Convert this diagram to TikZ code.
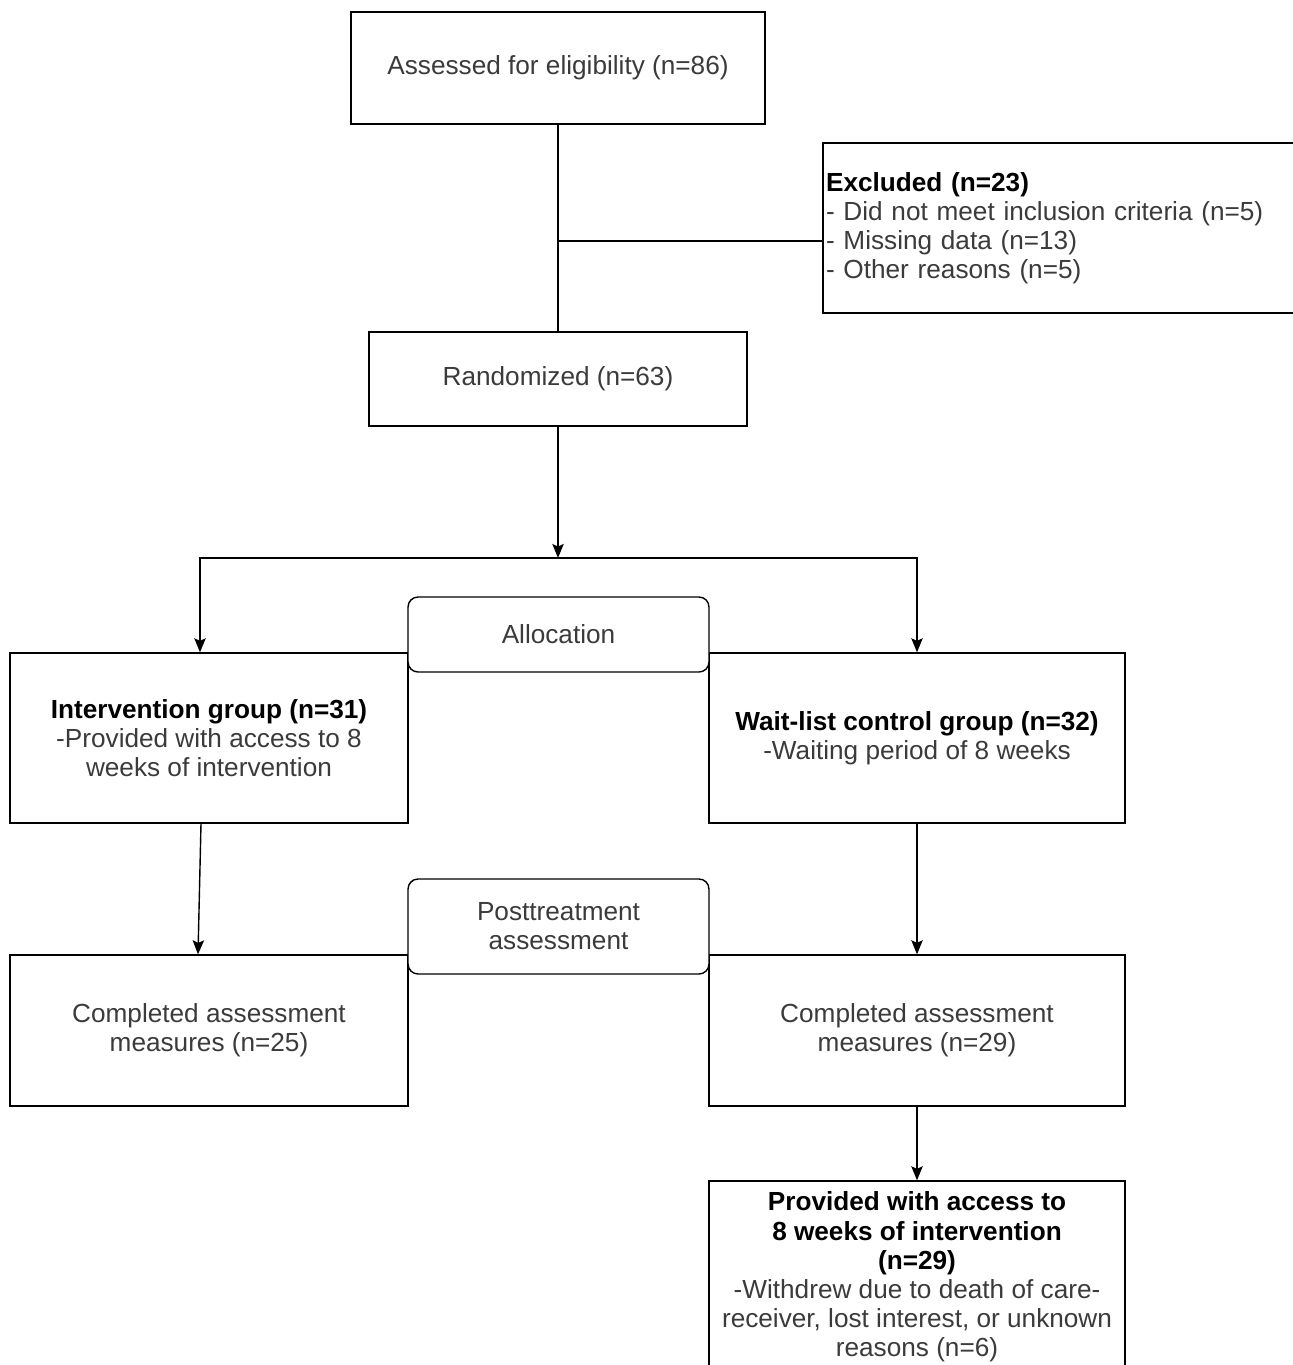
\documentclass[tikz,border=0pt]{standalone}
\usepackage{fontspec}
\setmainfont{Liberation Sans}
\usetikzlibrary{shapes, arrows, arrows.meta}
\definecolor{txtgray}{HTML}{3B3B3B}
\newcommand{\hdr}[1]{\textcolor{black}{\textbf{#1}}}

\begin{document}
\begin{tikzpicture}[x=0.02cm, y=-0.02cm, font=\fontsize{14.9}{16.6}\selectfont]
        \tikzstyle{box} = [rectangle, draw=black, line width=0.8pt, fill=white, text=txtgray, align=center, inner sep=1.7pt]
        \tikzstyle{roundbox} = [box, rounded corners=0.2cm]
        \tikzstyle{plainline} = [line width=0.8pt]
        \tikzstyle{singlearrow} = [line width=0.8pt, ->, >={Stealth[length=8pt, width=6.5pt, inset=1.5pt]}]

        \useasboundingbox (0,0) rectangle (1293,1365);

        \node (assess) [box, minimum width=8.28cm, minimum height=2.24cm] at (558,68) {Assessed for eligibility (n=86)};
        \node (excl) [box, align=left, text width=9.34cm, minimum height=3.4cm] at (1059.5,228) {\hdr{Excluded (n=23)}\\- Did not meet inclusion criteria (n=5)\\- Missing data (n=13)\\- Other reasons (n=5)};
        \node (rand) [box, minimum width=7.56cm, minimum height=1.88cm] at (558,379) {Randomized (n=63)};
        \coordinate (split) at (558,241);
        \coordinate (fork) at (558,558);

        \node (interv) [box, minimum width=7.96cm, minimum height=3.4cm] at (209,738) {\hdr{Intervention group (n=31)}\\-Provided with access to 8\\weeks of intervention};
        \node (wait) [box, minimum width=8.32cm, minimum height=3.4cm] at (917,738) {\hdr{Wait-list control group (n=32)}\\-Waiting period of 8 weeks};
        \node (compL) [box, minimum width=7.96cm, minimum height=3.02cm] at (209,1030.5) {Completed assessment\\measures (n=25)};
        \node (compR) [box, minimum width=8.32cm, minimum height=3.02cm] at (917,1030.5) {Completed assessment\\measures (n=29)};
        \node (prov) [box, minimum width=8.32cm, minimum height=3.84cm] at (917,1277) {\hdr{Provided with access to}\\\hdr{8 weeks of intervention}\\\hdr{(n=29)}\\-Withdrew due to death of care-\\receiver, lost interest, or unknown\\reasons (n=6)};

        \draw[plainline] (assess) -- (rand);
        \draw[plainline] (split) -- (split -| excl.west);
        \draw[singlearrow] (rand) -- (fork);
        \draw[singlearrow] (fork) -| ([xshift=-0.18cm]interv.north);
        \draw[singlearrow] (fork) -| (wait.north);
        \draw[singlearrow] ([xshift=-0.16cm]interv.south) -- ([xshift=-0.22cm]compL.north);
        \draw[singlearrow] (wait) -- (compR);
        \draw[singlearrow] (compR) -- (prov);

        \node (alloc) [roundbox, minimum width=6.02cm, minimum height=1.5cm] at (558.5,634.5) {Allocation};
        \node (post) [roundbox, minimum width=6.02cm, minimum height=1.9cm] at (558.5,926.5) {Posttreatment\\assessment};

    \end{tikzpicture}
\end{document}
